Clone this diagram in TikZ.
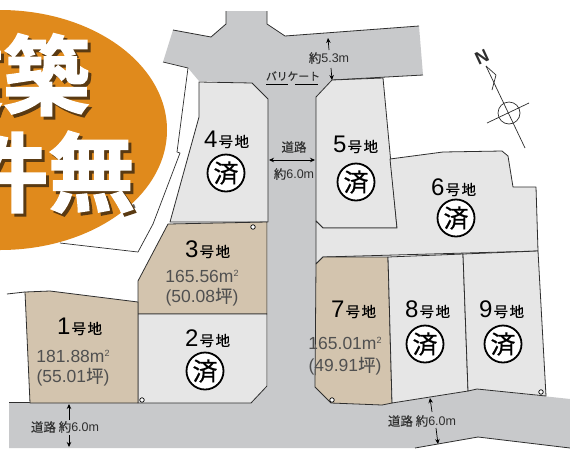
\documentclass[tikz,border=0pt]{standalone}
\usepackage{fontspec}
\setmainfont{Liberation Sans}
\newfontfamily\jp[FakeBold=0.25]{Noto Sans CJK JP}
\newfontfamily\jpsum[FakeBold=0.5]{Noto Sans CJK JP}
\newfontfamily\jpbig[FakeBold=1.8]{Noto Sans CJK JP Bold}
\usetikzlibrary{arrows.meta}
\definecolor{roadc}{HTML}{C8C9CB}
\definecolor{lotg}{HTML}{E6E6E6}
\definecolor{lott}{HTML}{D3C4AE}
\definecolor{orng}{HTML}{E08A1C}
\definecolor{shad}{HTML}{5A3A12}
\definecolor{inkc}{HTML}{2E2E2E}
\definecolor{areac}{HTML}{505050}
\newcommand{\lotname}[1]{\fontsize{24}{24}\selectfont #1\kern1pt{\jp\fontsize{14.5}{15}\selectfont 号\kern1.5pt 地}}
\newcommand{\sqm}{m\raisebox{5.5pt}{\fontsize{9}{9}\selectfont 2}}
\tikzset{
  lotedge/.style={draw=inkc,line width=0.8pt,line join=round},
  graylot/.style={lotedge,fill=lotg},
  tanlot/.style={lotedge,fill=lott},
  edgeline/.style={draw=inkc,line width=0.8pt,line join=round},
  lotlabel/.style={anchor=base west,inner sep=0pt,text=black},
  areatext/.style={inner sep=0pt,text=areac,font=\fontsize{17.5}{18}\selectfont},
  sumi/.style={circle,draw=black,fill=white,line width=1.8pt,minimum size=37pt,inner sep=0pt,font=\jpsum\fontsize{25}{25}\selectfont},
  roadtext/.style={inner sep=0pt,text=inkc,font=\fontsize{12.5}{13}\selectfont},
  dim/.style={draw=black,line width=0.7pt,-{Stealth[length=5pt,width=4.5pt]}},
  dimboth/.style={draw=black,line width=0.7pt,{Stealth[length=5pt,width=4.5pt]}-{Stealth[length=5pt,width=4.5pt]}},
  pin/.style={circle,draw=black,fill=white,line width=0.7pt,minimum size=4.5pt,inner sep=0pt},
  bigtext/.style={inner sep=0pt,font=\jpbig\fontsize{87}{87}\selectfont},
}
\begin{document}
\begin{tikzpicture}[x=1pt,y=-1pt]
\useasboundingbox (0,0) rectangle (570,448);
\fill[white] (0,0) rectangle (570,448);
% road
\fill[roadc] (173,30)--(211,37)--(226,24)--(226,11)--(267,11)--(267,24)--(285,36)--(419,26)--(423,75)--(332,80)--(316,97)--(316,387)--(331,403)--(382,405)--(392,403)--(468,391)--(477,389)--(570,399)--(570,448)--(478,437)--(415,448)--(9,448)--(9,402)--(250,402)--(268,386)--(268,99)--(252,83)--(199,81)--(188,68)--(163,62)--cycle;
\draw[edgeline] (173,30)--(211,37)--(226,24)--(226,11);
\draw[edgeline] (267,11)--(267,24)--(285,36)--(419,26);
\draw[edgeline] (423,75)--(332,80);
\draw[edgeline] (570,448)--(478,437)--(415,448);
\draw[edgeline] (9,402.5)--(250,402.5);
% site boundary lines
\draw[edgeline,line width=0.7pt] (163,62)--(188,68)--(177,152)--(180,153)--(153,224)--(138,252)--(60,243);
% lots
\path[graylot] (199,82)--(199,117)--(170,222)--(268,222)--(268,99)--(252,83)--cycle;
\path[tanlot] (168,224)--(267,222)--(267,314)--(138,314)--(138,281)--cycle;
\path[graylot] (138,314)--(267,314)--(267,386)--(251,403)--(138,403)--cycle;
\draw[edgeline] (7,294)--(25,292);
\path[tanlot] (25,292)--(50,291)--(138,302)--(138,403)--(30,403)--cycle;
\path[graylot] (316,97)--(332,80)--(383,78)--(397,228)--(323,228)--(316,221)--cycle;
\path[graylot] (390,159)--(443,152)--(502,151)--(508,156)--(513,187)--(536,187)--(538,251)--(323,257)--(316,264)--(316,221)--(323,228)--(397,228)--cycle;
\path[tanlot] (316,264)--(323,257)--(388,257)--(392,403)--(382,405)--(331,403)--(315,387)--cycle;
\path[graylot] (388,257)--(463,254)--(468,391)--(392,403)--cycle;
\path[graylot] (463,254)--(538,251)--(546,396)--(477,389)--(468,391)--cycle;
% orange
\fill[orng] (0,130) ellipse [x radius=167,y radius=120];
\fill[black!60] (123,209)--(134,204)--(135.5,207.5)--(124.5,213)--cycle;
\node[bigtext,text=shad] (bigAs) at (6,78) {建築};
\node[bigtext,text=white] (bigA) at (3,75) {建築};
\node[bigtext,text=shad] (bigBs) at (51,175) {件無};
\node[bigtext,text=white] (bigB) at (48,172) {件無};
% lot names
\node[lotlabel] (n1) at (57,334) {\lotname{1}};
\node[lotlabel] (n2) at (185,346) {\lotname{2}};
\node[lotlabel] (n3) at (185,257) {\lotname{3}};
\node[lotlabel] (n4) at (204,147) {\lotname{4}};
\node[lotlabel] (n5) at (333,152) {\lotname{5}};
\node[lotlabel] (n6) at (431,195) {\lotname{6}};
\node[lotlabel] (n7) at (331,317) {\lotname{7}};
\node[lotlabel] (n8) at (405,317) {\lotname{8}};
\node[lotlabel] (n9) at (479,317) {\lotname{9}};
% done marks
\node[sumi] (s2) at (205,371) {済};
\node[sumi] (s4) at (226,173) {済};
\node[sumi] (s5) at (356,182) {済};
\node[sumi] (s6) at (456,218) {済};
\node[sumi] (s8) at (425,344) {済};
\node[sumi] (s9) at (503,344) {済};
% areas
\node[areatext] (a3a) at (202,276) {165.56\sqm};
\node[areatext] (a3b) at (202,297) {(50.08{\jp 坪})};
\node[areatext] (a1a) at (73,356) {181.88\sqm};
\node[areatext] (a1b) at (73,377) {(55.01{\jp 坪})};
\node[areatext] (a7a) at (345,343) {165.01\sqm};
\node[areatext] (a7b) at (345,366) {(49.91{\jp 坪})};
% pins
\node[pin] (p1) at (253,227) {};
\node[pin] (p2) at (142,400) {};
\node[pin] (p3) at (332,400) {};
\node[pin] (p4) at (541,392) {};
% road labels
\node[roadtext] (r1) at (294,147) {{\jp 道路}};
\node[roadtext] (r2) at (294,174) {{\jp 約}6.0m};
\coordinate (r3l) at (269,160); \coordinate (r3r) at (315,160);
\draw[dimboth] (r3l)--(r3r);
\node[roadtext] (r4) at (329,58) {{\jp 約}5.3m};
\coordinate (r4a) at (329,50); \coordinate (r4b) at (328,38);
\coordinate (r4c) at (331,68); \coordinate (r4d) at (332,80);
\draw[dim] (r4a)--(r4b);
\draw[dim] (r4c)--(r4d);
\node[roadtext,font=\jp\fontsize{10.8}{11}\selectfont] (bar) at (293,76) {バリケート};
\draw[black,line width=1pt] (266,84.5)--(288,84.5);
\draw[black,line width=1pt] (295,84.5)--(318,84.5);
\node[roadtext] (r5) at (65,427) {{\jp 道路 約}6.0m};
\coordinate (r5a) at (69,420); \coordinate (r5b) at (69,404);
\coordinate (r5c) at (69,435); \coordinate (r5d) at (69,447);
\draw[dim] (r5a)--(r5b);
\draw[dim] (r5c)--(r5d);
\node[roadtext] (r6) at (422,421) {{\jp 道路 約}6.0m};
\coordinate (r6a) at (432,412); \coordinate (r6b) at (430,398);
\coordinate (r6c) at (436,428); \coordinate (r6d) at (438,444);
\draw[dim] (r6a)--(r6b);
\draw[dim] (r6c)--(r6d);
% compass
\node[inner sep=0pt,rotate=25,font=\fontsize{18}{18}\selectfont\bfseries,text=inkc] (north) at (482,57) {N};
\draw[draw=inkc,line width=0.7pt] (486,66)--(525,148);
\draw[draw=inkc,line width=0.7pt] (487,123)--(529,103);
\draw[draw=inkc,line width=0.7pt] (509,113) circle [radius=11];
\draw[draw=inkc,line width=0.7pt,line join=round] (486,66)--(496,75)--(492,90);
\end{tikzpicture}
\end{document}
